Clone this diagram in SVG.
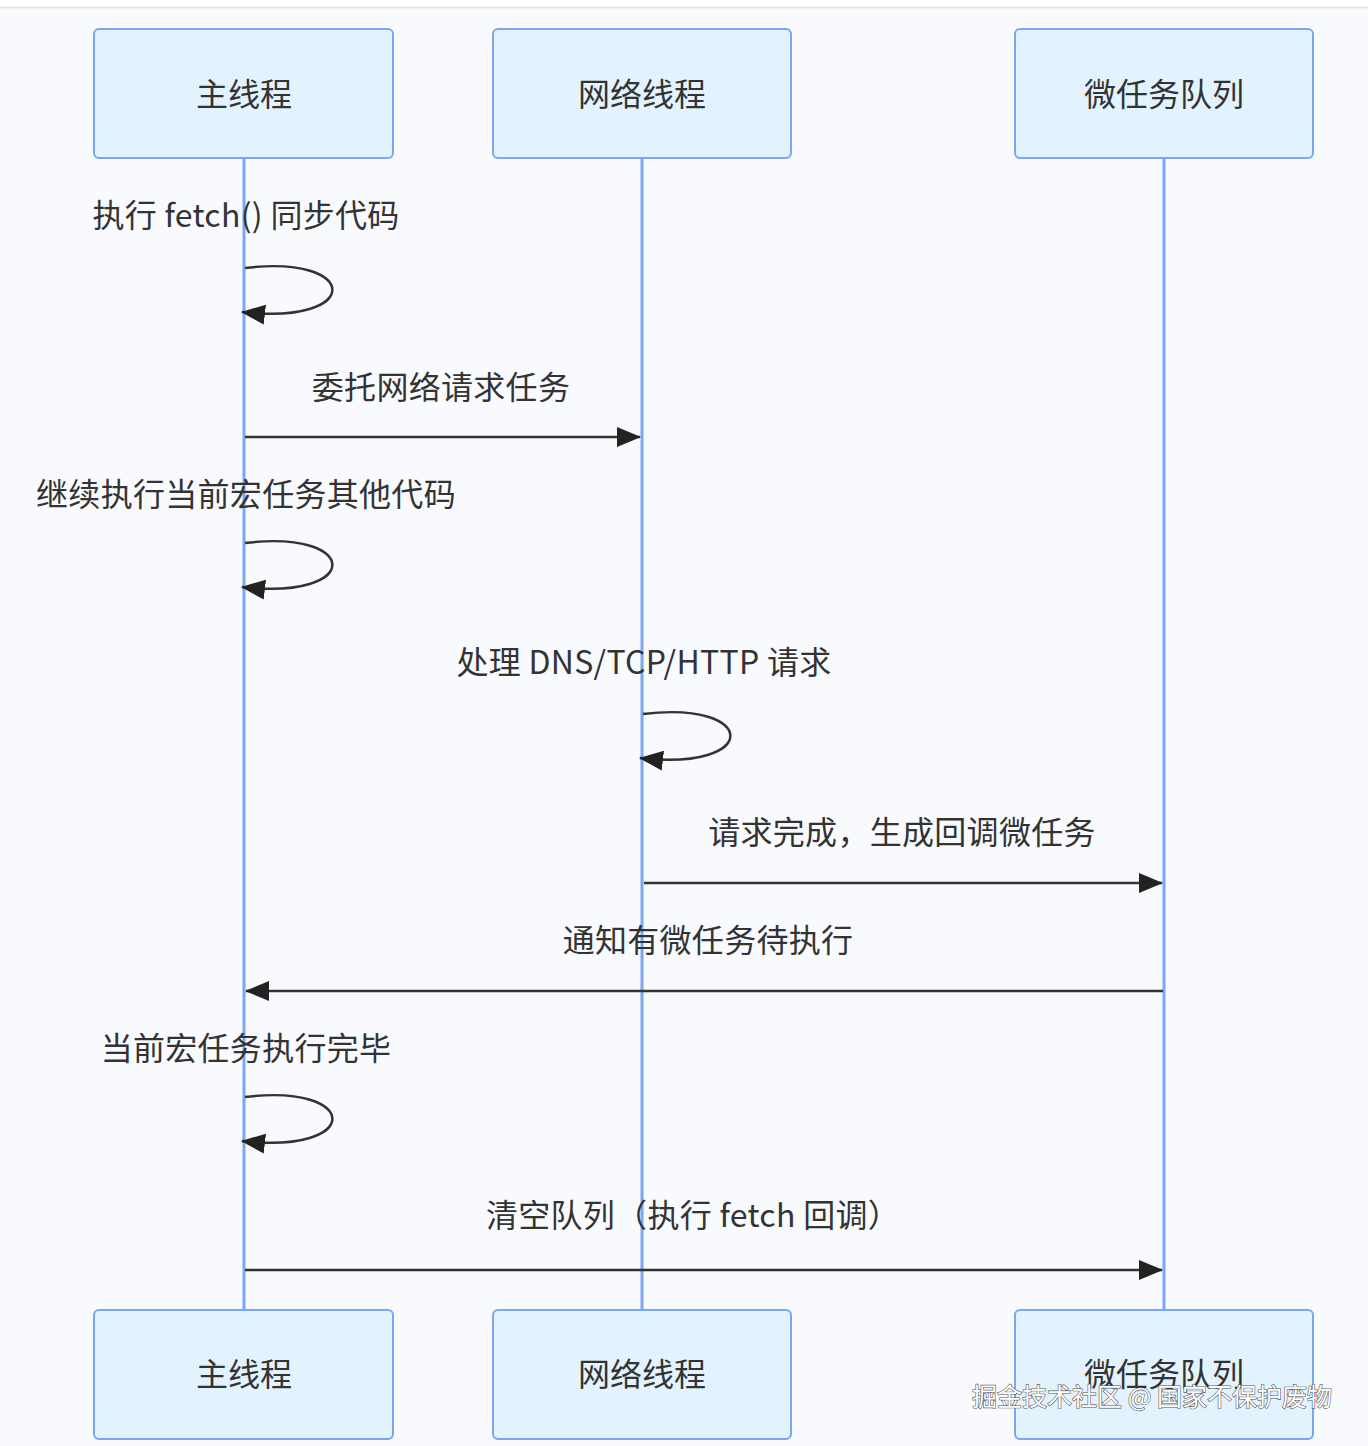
<svg xmlns="http://www.w3.org/2000/svg" width="1368" height="1446" viewBox="0 0 1368 1446">
<style>
.bg{fill:#f8fafd}
.actor rect{fill:#e3f3fd;stroke:#79a7f3;stroke-width:2}
.actor text,.msg{font-family:"Noto Sans CJK SC","Noto Sans",sans-serif;font-size:32px;fill:#333;text-anchor:middle;dominant-baseline:central}
.msg{letter-spacing:0.3px}
.life{stroke:#79a7f3;stroke-width:3}
.line{stroke:#333;stroke-width:2.5;fill:none}
.wm{font-family:"Noto Sans CJK SC","Noto Sans",sans-serif;font-size:25px;fill:#fff;stroke:#555;stroke-width:1.2;paint-order:stroke;text-anchor:middle;dominant-baseline:central}
</style>
<defs>
<marker id="ahb" viewBox="0 0 24 20" refX="23" refY="10" markerWidth="24" markerHeight="20" markerUnits="userSpaceOnUse" orient="auto">
<path d="M0,0 L24,10 L0,20 z" fill="#222"/>
</marker>
</defs>
<rect x="0" y="0" width="1368" height="1446" fill="#fff"/>
<rect class="bg" x="0" y="9" width="1368" height="1437"/>
<line x1="0" y1="7.5" x2="1368" y2="7.5" stroke="#e6e6e6" stroke-width="2"/>
<g id="lifelines">
<line class="life" x1="244" y1="158" x2="244" y2="1310"/>
<line class="life" x1="642" y1="158" x2="642" y2="1310"/>
<line class="life" x1="1164" y1="158" x2="1164" y2="1310"/>
</g>
<g id="actor-main-top" class="actor"><rect x="94" y="29" width="299" height="129" rx="5"/><text x="244" y="92">主线程</text></g>
<g id="actor-net-top" class="actor"><rect x="493" y="29" width="298" height="129" rx="5"/><text x="642" y="92">网络线程</text></g>
<g id="actor-mq-top" class="actor"><rect x="1015" y="29" width="298" height="129" rx="5"/><text x="1164" y="92">微任务队列</text></g>
<g id="actor-main-bottom" class="actor"><rect x="94" y="1310" width="299" height="129" rx="5"/><text x="244" y="1372">主线程</text></g>
<g id="actor-net-bottom" class="actor"><rect x="493" y="1310" width="298" height="129" rx="5"/><text x="642" y="1372">网络线程</text></g>
<g id="actor-mq-bottom" class="actor"><rect x="1015" y="1310" width="298" height="129" rx="5"/><text x="1164" y="1372">微任务队列</text></g>
<g id="connectors">
<path class="line" d="M245,268 C362,254 362,326 242,312" marker-end="url(#ahb)"/>
<line class="line" x1="245" y1="437" x2="640" y2="437" marker-end="url(#ahb)"/>
<path class="line" d="M245,543 C362,529 362,601 242,587" marker-end="url(#ahb)"/>
<path class="line" d="M643,714 C760,700 760,772 640,758" marker-end="url(#ahb)"/>
<line class="line" x1="644" y1="883" x2="1162" y2="883" marker-end="url(#ahb)"/>
<line class="line" x1="1163" y1="991" x2="246" y2="991" marker-end="url(#ahb)"/>
<path class="line" d="M245,1097 C362,1083 362,1155 242,1141" marker-end="url(#ahb)"/>
<line class="line" x1="245" y1="1270" x2="1162" y2="1270" marker-end="url(#ahb)"/>
</g>
<g id="labels">
<text class="msg" x="246" y="213">执行 fetch() 同步代码</text>
<text class="msg" x="441" y="385">委托网络请求任务</text>
<text class="msg" x="246" y="492">继续执行当前宏任务其他代码</text>
<text class="msg" x="644" y="660">处理 DNS/TCP/HTTP 请求</text>
<text class="msg" x="902" y="830">请求完成，生成回调微任务</text>
<text class="msg" x="708" y="938">通知有微任务待执行</text>
<text class="msg" x="246" y="1046">当前宏任务执行完毕</text>
<text class="msg" x="693" y="1213">清空队列（执行 fetch 回调）</text>
</g>
<text class="wm" x="1152" y="1395">掘金技术社区 @ 国家不保护废物</text>
</svg>
